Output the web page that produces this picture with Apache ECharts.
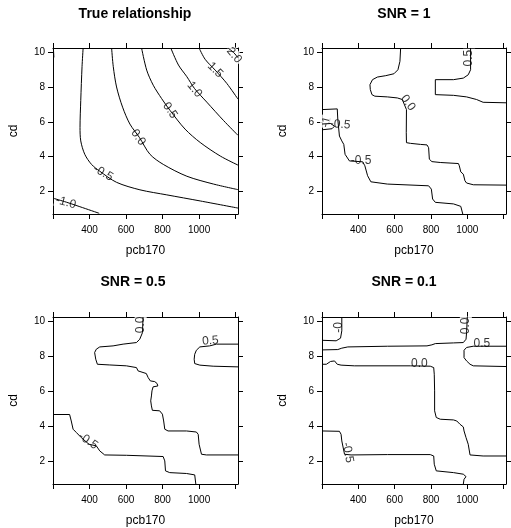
<!DOCTYPE html>
<html>
<head>
<meta charset="utf-8">
<script src="https://cdn.jsdelivr.net/npm/echarts@6/dist/echarts.min.js"></script>
<style>
  html, body { margin: 0; padding: 0; background: #fff; }
  #chart { width: 511px; height: 528px; }
</style>
</head>
<body>
<div id="chart"></div>
<script>
const xTicks = [200, 400, 600, 800, 1000, 1200];
const xTickLabels = [400, 600, 800, 1000];
const yTicks = [2, 4, 6, 8, 10];
const xRange = [200, 1213];
const yRange = [0.7, 10.24];

const titles = ["True relationship", "SNR = 1", "SNR = 0.5", "SNR = 0.1"];

// contour lines, points are [pcb170, cd]
const trueLines = [
  [[202, 10.24], [205, 9.7]],
  [[200, 1.61], [273, 1.38], [347, 1.12], [453, 0.74]],
  [[365, 10.24], [359, 9.17], [352, 7.23], [348, 5.68], [352, 4.9], [374, 4.13], [411, 3.55], [456, 3.16], [548, 2.52], [676, 2.09], [823, 1.8], [1006, 1.45], [1213, 1.04]],
  [[521, 10.24], [530, 9.17], [548, 8.0], [581, 6.84], [621, 5.87], [673, 5.1], [731, 4.13], [804, 3.55], [933, 2.87], [1079, 2.42], [1213, 2.1]],
  [[685, 10.24], [713, 8.97], [749, 8.1], [795, 7.33], [841, 6.65], [923, 5.58], [1006, 4.81], [1116, 4.03], [1213, 3.51]],
  [[845, 10.24], [887, 9.26], [933, 8.59], [975, 7.91], [1042, 7.13], [1134, 6.07], [1213, 5.22]],
  [[1000, 10.24], [1033, 9.59], [1088, 8.97], [1152, 8.2], [1213, 7.3]],
  [[1158, 10.24], [1189, 9.98], [1213, 9.68]]
];
const trueLabels = [["-1.0", 270, 1.36], ["-0.5", 475, 3.06], ["0.0", 667, 5.1], ["0.5", 841, 6.65], ["1.0", 975, 7.85], ["1.5", 1088, 8.97], ["2.0", 1192, 9.82]];

const snr1Lines = [
  [[633, 10.24], [629, 9.47], [618, 8.99], [596, 8.76], [551, 8.65], [505, 8.57], [478, 8.42], [464, 8.13], [466, 7.85], [475, 7.56], [491, 7.47], [560, 7.43], [615, 7.37], [642, 7.28], [665, 6.7], [664, 5.37], [665, 4.8], [687, 4.76], [742, 4.7], [778, 4.67], [787, 4.51], [791, 3.85], [805, 3.71], [851, 3.66], [951, 3.6], [956, 3.47], [964, 3.12], [978, 2.99], [987, 2.61], [996, 2.48], [1033, 2.38], [1213, 2.36]],
  [[200, 6.7], [284, 6.74], [287, 6.13], [296, 5.18], [309, 4.9], [320, 4.7], [327, 4.13], [351, 3.75], [424, 3.7], [436, 3.47], [451, 2.9], [469, 2.55], [560, 2.42], [787, 2.32], [802, 2.13], [809, 1.56], [824, 1.37], [924, 1.28], [964, 1.14], [975, 0.7]],
  [[200, 5.87], [247, 5.9], [269, 5.75], [255, 5.6], [200, 5.54]],
  [[1018, 10.24], [1018, 8.99], [1005, 8.7], [978, 8.51], [924, 8.42], [824, 8.42], [824, 7.56], [924, 7.52], [996, 7.43], [1051, 7.28], [1087, 7.12], [1213, 7.09]]
];
const snr1Labels = [["0.0", 673, 7.09], ["-1", 224, 5.98], ["-0.5", 300, 5.85], ["-0.5", 415, 3.75], ["0.5", 1010, 9.66]];

const snr05Lines = [
  [[693, 10.24], [690, 9.35], [675, 8.97], [657, 8.78], [584, 8.69], [529, 8.59], [456, 8.53], [437, 8.4], [428, 8.21], [434, 7.83], [443, 7.54], [511, 7.5], [602, 7.45], [657, 7.35], [666, 7.16], [711, 7.01], [721, 6.78], [733, 6.59], [757, 6.55], [770, 6.44], [774, 6.3], [748, 6.25], [742, 6.02], [739, 5.73], [735, 5.45], [739, 5.16], [744, 4.91], [784, 4.88], [799, 4.69], [806, 4.3], [812, 3.83], [830, 3.73], [931, 3.73], [985, 3.67], [995, 3.54], [1000, 2.97], [1013, 2.4], [1040, 2.36], [1213, 2.36]],
  [[200, 4.67], [291, 4.67], [300, 4.3], [310, 3.83], [328, 3.64], [355, 3.35], [397, 2.97], [437, 2.88], [456, 2.59], [483, 2.36], [602, 2.34], [803, 2.27], [812, 2.02], [816, 1.45], [839, 1.35], [931, 1.3], [976, 1.22], [982, 0.7]],
  [[1213, 8.69], [1095, 8.69], [1058, 8.59], [1004, 8.53], [985, 8.34], [976, 8.11], [973, 7.83], [976, 7.58], [1004, 7.49], [1077, 7.43], [1213, 7.39]]
];
const snr05Labels = [["0.0", 680, 9.79], ["-0.5", 392, 3.16], ["0.5", 1062, 8.88]];

const snr01Lines = [
  [[200, 8.91], [278, 8.88], [302, 9.03], [309, 9.45], [309, 10.24]],
  [[200, 8.36], [287, 8.38], [309, 8.46], [342, 8.53], [560, 8.57], [778, 8.59], [805, 8.65], [824, 8.72], [924, 8.76], [978, 8.78], [993, 8.97], [996, 9.35], [1000, 10.24]],
  [[1213, 8.57], [1033, 8.57], [996, 8.5], [982, 8.34], [982, 7.92], [996, 7.73], [1015, 7.54], [1033, 7.45], [1213, 7.41]],
  [[200, 7.54], [224, 7.54], [247, 7.7], [269, 7.73], [278, 7.62], [284, 7.54], [305, 7.49], [378, 7.45], [687, 7.45], [796, 7.43], [815, 7.35], [818, 6.97], [820, 6.02], [820, 4.88], [829, 4.5], [851, 4.4], [924, 4.36], [942, 4.3], [960, 4.11], [978, 3.96], [982, 3.73], [993, 3.35], [1005, 2.97], [1015, 2.36], [1087, 2.3], [1213, 2.3]],
  [[200, 3.73], [296, 3.71], [305, 3.54], [309, 3.16], [324, 2.4], [360, 2.36], [560, 2.38], [796, 2.38], [815, 2.3], [818, 1.83], [829, 1.45], [924, 1.35], [978, 1.26], [993, 1.12], [982, 0.97], [978, 0.7]]
];
const snr01Labels = [["-0", 290, 9.64], ["0.0", 992, 9.73], ["0.5", 1080, 8.74], ["0.0", 736, 7.6], ["-0.5", 342, 2.5]];

// label angles (degrees) follow the line direction
const labelAngles = [
  [-15, -30, -55, -55, -50, -45, -50],
  [-55, 75, -5, 0, 90],
  [90, -35, 5],
  [90, 90, 0, 0, -80]
];

const panelLines = [trueLines, snr1Lines, snr05Lines, snr01Lines];
const panelLabels = [trueLabels, snr1Labels, snr05Labels, snr01Labels];

const font = "Liberation Sans, Arial, Helvetica, sans-serif";
const boxes = [
  { left: 53, top: 48, width: 185, height: 166 },
  { left: 322, top: 48, width: 184, height: 166 },
  { left: 53, top: 317, width: 185, height: 167 },
  { left: 322, top: 317, width: 184, height: 167 }
];
const titlePos = [[135, 14], [404, 14], [133, 282], [404, 282]];

const line = { show: true, lineStyle: { color: "#000", width: 1 } };
const tick = (vals) => ({ show: true, customValues: vals, length: 5, lineStyle: { color: "#000", width: 1 } });

const xAxis = [], yAxis = [], series = [], graphic = [];
boxes.forEach((b, i) => {
  xAxis.push({
    gridIndex: i, type: "value", position: "bottom", min: xRange[0], max: xRange[1],
    axisLine: line, axisTick: tick(xTicks), splitLine: { show: false },
    axisLabel: {
      customValues: xTickLabels, fontSize: 10, color: "#000", margin: 11, fontFamily: font,
      formatter: (v) => String(v)
    },
    name: "pcb170", nameLocation: "middle", nameGap: 31,
    nameTextStyle: { fontSize: 12, color: "#000", fontFamily: font }
  });
  xAxis.push({
    gridIndex: i, type: "value", position: "top", min: xRange[0], max: xRange[1],
    axisLine: line, axisTick: tick(xTicks), splitLine: { show: false },
    axisLabel: { show: false }
  });
  yAxis.push({
    gridIndex: i, type: "value", position: "left", min: yRange[0], max: yRange[1],
    axisLine: line, axisTick: tick(yTicks), splitLine: { show: false },
    axisLabel: { customValues: yTicks, fontSize: 10, color: "#000", margin: 8, fontFamily: font },
    name: "cd", nameLocation: "middle", nameGap: 33, nameRotate: 90,
    nameTextStyle: { fontSize: 12, color: "#000", fontFamily: font }
  });
  yAxis.push({
    gridIndex: i, type: "value", position: "right", min: yRange[0], max: yRange[1],
    axisLine: line, axisTick: tick(yTicks), splitLine: { show: false },
    axisLabel: { show: false }
  });

  panelLines[i].forEach((pts) => {
    series.push({
      type: "line", xAxisIndex: 2 * i, yAxisIndex: 2 * i, data: pts,
      symbol: "none", smooth: i === 0 ? 0.3 : false, clip: true, silent: true,
      lineStyle: { color: "#000", width: 1 }
    });
  });

  series.push({
    type: "scatter", xAxisIndex: 2 * i, yAxisIndex: 2 * i, symbolSize: 0, silent: true,
    data: panelLabels[i].map((l, k) => ({
      name: l[0], value: [l[1], l[2]], label: { rotate: labelAngles[i][k] }
    })),
    label: {
      show: true, position: "inside", formatter: (p) => p.name,
      fontSize: 12, color: "#000", fontFamily: font,
      backgroundColor: "#fff", padding: [0, 1]
    }
  });

  graphic.push({
    type: "text", x: titlePos[i][0], y: titlePos[i][1],
    style: {
      text: titles[i], align: "center", verticalAlign: "middle",
      fontSize: 14, fontWeight: "bold", fontFamily: font, fill: "#000"
    }
  });
});

const c = echarts.init(document.getElementById("chart"));
c.setOption({
  animation: false,
  backgroundColor: "#fff",
  grid: boxes,
  xAxis: xAxis,
  yAxis: yAxis,
  series: series,
  graphic: graphic
});
</script>
</body>
</html>
